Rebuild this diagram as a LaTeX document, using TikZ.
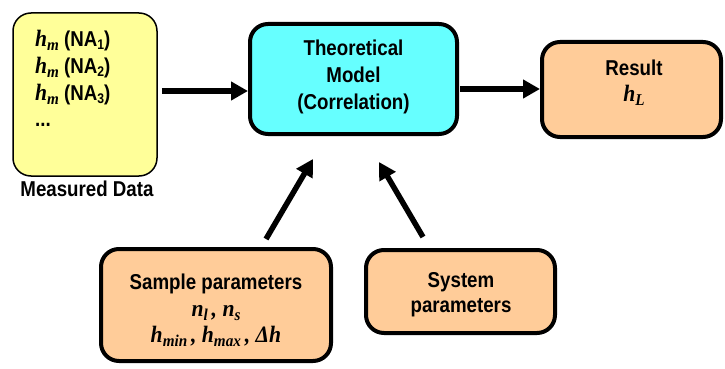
\documentclass[tikz,border=0pt]{standalone}
\usepackage{fontspec}
\setmainfont{Liberation Sans}[FakeStretch=0.87]
\newfontfamily\tms{Liberation Serif}[FakeStretch=0.92]
\usetikzlibrary{arrows.meta}
\definecolor{yel}{HTML}{FFFF99}
\definecolor{cyn}{HTML}{66FFFF}
\definecolor{org}{HTML}{FFCC99}
\newcommand\mv[1]{{\tms\bfseries\itshape\fontsize{23.5}{24}\selectfont #1}}
\newcommand\msub[1]{\raisebox{-4pt}{\tms\bfseries\itshape\fontsize{16.5}{17}\selectfont #1}}
\newcommand\nsub[1]{\raisebox{-3pt}{\fontsize{14}{14}\selectfont #1}}
\begin{document}
\begin{tikzpicture}[x=1pt,y=-1pt,
  box/.style={draw, rounded corners=18pt, line width=4pt, inner sep=0pt},
  txt/.style={font=\bfseries\fontsize{21.5}{22}\selectfont, inner sep=0pt},
  arr/.style={line width=5.5pt, -{Triangle[length=17pt,width=18pt]}}]
\useasboundingbox (0,0) rectangle (725,369);
% boxes
\node[box, line width=1.5pt, fill=yel, minimum width=144pt, minimum height=163pt] (data) at (85,94.5) {};
\node[box, fill=cyn, minimum width=207pt, minimum height=110pt] (model) at (353.5,79) {};
\node[box, fill=org, minimum width=179pt, minimum height=95pt] (result) at (631.5,89.5) {};
\node[box, fill=org, minimum width=230pt, minimum height=112pt] (sample) at (216,305) {};
\node[box, fill=org, minimum width=189pt, minimum height=83pt] (system) at (460.5,291.5) {};
% texts
\node[txt, anchor=base west] (d1) at (35,47) {\mv{h}\msub{m} (NA\nsub{1})};
\node[txt, anchor=base west] (d2) at (35,73.5) {\mv{h}\msub{m} (NA\nsub{2})};
\node[txt, anchor=base west] (d3) at (35,100) {\mv{h}\msub{m} (NA\nsub{3})};
\node[txt, anchor=base west] (d4) at (35,126.5) {...};
\node[txt, anchor=base, font=\bfseries\fontsize{21.5}{22}\selectfont] (dl) at (87,196) {Measured Data};
\node[txt, anchor=base] (m1) at (353.5,55.7) {Theoretical};
\node[txt, anchor=base] (m2) at (353.5,82.7) {Model};
\node[txt, anchor=base] (m3) at (353.5,109) {(Correlation)};
\node[txt, anchor=base] (r1) at (634,75) {Result};
\node[txt, anchor=base] (r2) at (634,101.7) {\mv{h}\msub{L}};
\node[txt, anchor=base] (s1) at (216,289) {Sample parameters};
\node[txt, anchor=base] (s2) at (216,316) {\mv{n}\msub{l}\mv{\,, n}\msub{s}};
\node[txt, anchor=base] (s3) at (216,342) {\mv{h}\msub{min}\mv{\,, h}\msub{max}\mv{\,, Δh}};
\node[txt, anchor=base] (y1) at (461,287) {System};
\node[txt, anchor=base] (y2) at (461,312) {parameters};
% arrows
\coordinate (a1s) at ([xshift=4pt]data.east);
\draw[arr] (a1s |- 0,91) -- (model.west |- 0,91);
\coordinate (a2s) at ([xshift=1pt]model.east);
\draw[arr] (a2s |- 0,89) -- (result.west |- 0,89);
\coordinate (p3s) at (266,239);
\coordinate (p3e) at (313,159);
\draw[arr] (p3s) -- (p3e);
\coordinate (p4s) at (423,237);
\coordinate (p4e) at (379,162);
\draw[arr] (p4s) -- (p4e);
\end{tikzpicture}
\end{document}
